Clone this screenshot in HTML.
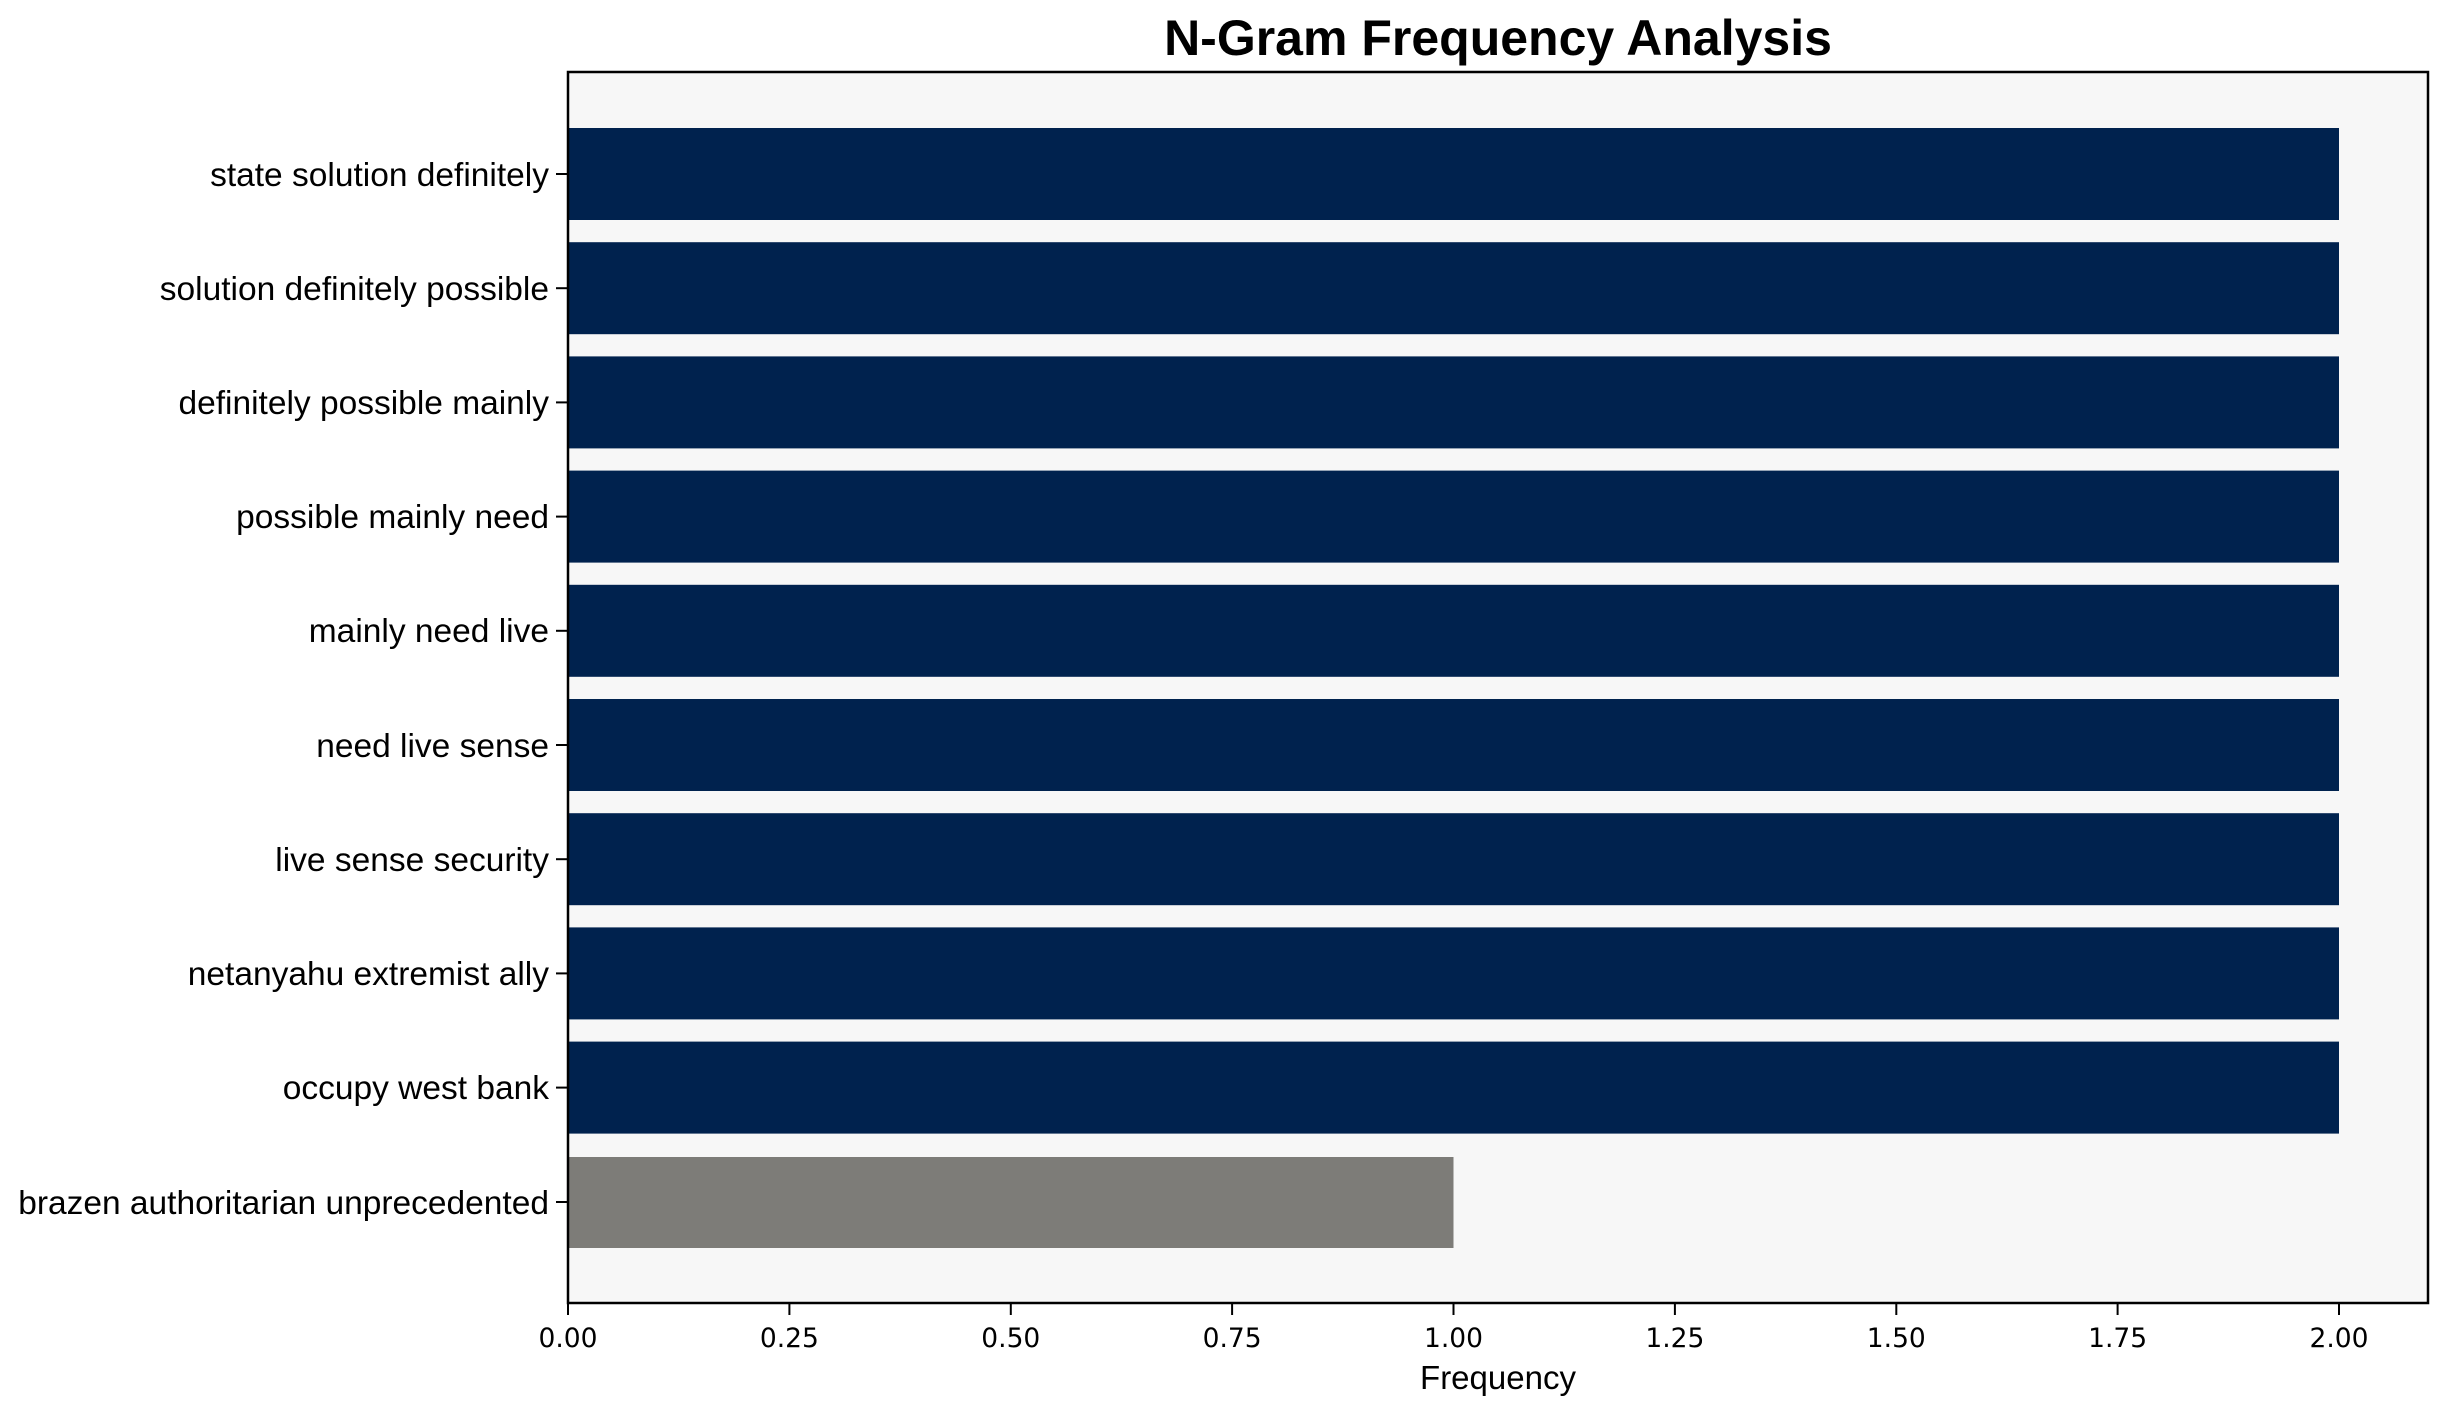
<!DOCTYPE html>
<html><head><style>body{margin:0;background:#fff}svg{display:block}</style></head>
<body>
<svg width="2447" height="1414" xmlns="http://www.w3.org/2000/svg">
<rect width="2447" height="1414" fill="#fff"/>
<text x="1498" y="55" text-anchor="middle" font-family="Liberation Sans, Arial, sans-serif" font-weight="bold" font-size="50">N-Gram Frequency Analysis</text>
<rect x="568" y="72" width="1860" height="1231" fill="#f7f7f7"/>
<g fill="#00224e">
<rect x="568" y="128" width="1771" height="92"/>
<rect x="568" y="242.2" width="1771" height="92"/>
<rect x="568" y="356.4" width="1771" height="92"/>
<rect x="568" y="470.6" width="1771" height="92"/>
<rect x="568" y="584.8" width="1771" height="92"/>
<rect x="568" y="699" width="1771" height="92"/>
<rect x="568" y="813.2" width="1771" height="92"/>
<rect x="568" y="927.4" width="1771" height="92"/>
<rect x="568" y="1041.6" width="1771" height="92"/>
</g>
<rect x="568" y="1157" width="885.5" height="91" fill="#7d7c78"/>
<rect x="568" y="72" width="1860" height="1231" fill="none" stroke="#000" stroke-width="2.5"/>
<g stroke="#000" stroke-width="2">
<line x1="556" y1="174" x2="568" y2="174"/><line x1="556" y1="288.2" x2="568" y2="288.2"/><line x1="556" y1="402.4" x2="568" y2="402.4"/><line x1="556" y1="516.6" x2="568" y2="516.6"/><line x1="556" y1="630.8" x2="568" y2="630.8"/><line x1="556" y1="745" x2="568" y2="745"/><line x1="556" y1="859.2" x2="568" y2="859.2"/><line x1="556" y1="973.4" x2="568" y2="973.4"/><line x1="556" y1="1087.6" x2="568" y2="1087.6"/><line x1="556" y1="1202" x2="568" y2="1202"/>
</g>
<g font-family="Liberation Sans, Arial, sans-serif" font-size="33.5" text-anchor="end" fill="#000">
<text x="549" y="186">state solution definitely</text>
<text x="549" y="300">solution definitely possible</text>
<text x="549" y="414">definitely possible mainly</text>
<text x="549" y="528">possible mainly need</text>
<text x="549" y="642">mainly need live</text>
<text x="549" y="757">need live sense</text>
<text x="549" y="871">live sense security</text>
<text x="549" y="985">netanyahu extremist ally</text>
<text x="549" y="1099">occupy west bank</text>
<text x="549" y="1214">brazen authoritarian unprecedented</text>
</g>
<g stroke="#000" stroke-width="2">
<line x1="568" y1="1303" x2="568" y2="1315"/><line x1="789.4" y1="1303" x2="789.4" y2="1315"/><line x1="1010.8" y1="1303" x2="1010.8" y2="1315"/><line x1="1232.1" y1="1303" x2="1232.1" y2="1315"/><line x1="1453.5" y1="1303" x2="1453.5" y2="1315"/><line x1="1674.9" y1="1303" x2="1674.9" y2="1315"/><line x1="1896.3" y1="1303" x2="1896.3" y2="1315"/><line x1="2117.6" y1="1303" x2="2117.6" y2="1315"/><line x1="2339" y1="1303" x2="2339" y2="1315"/>
</g>
<g font-family="DejaVu Sans, sans-serif" font-size="26.5" text-anchor="middle" fill="#000">
<text x="568" y="1347">0.00</text><text x="789.4" y="1347">0.25</text><text x="1010.8" y="1347">0.50</text><text x="1232.1" y="1347">0.75</text><text x="1453.5" y="1347">1.00</text><text x="1674.9" y="1347">1.25</text><text x="1896.3" y="1347">1.50</text><text x="2117.6" y="1347">1.75</text><text x="2339" y="1347">2.00</text>
</g>
<text x="1498" y="1389" text-anchor="middle" font-family="Liberation Sans, Arial, sans-serif" font-size="33">Frequency</text>
</svg>
</body></html>
